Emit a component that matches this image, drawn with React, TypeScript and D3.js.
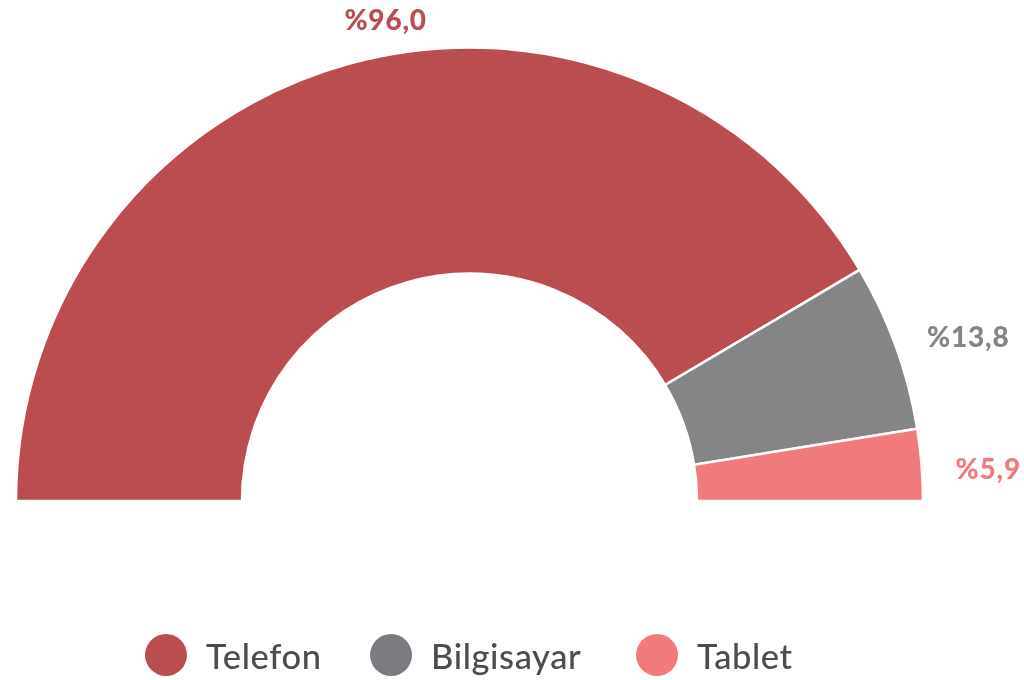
import React from "react";
import * as d3 from "d3";

const categories = ["Telefon", "Bilgisayar", "Tablet"];
const values = [96.0, 13.8, 5.9];
const labels = ["%96,0", "%13,8", "%5,9"];
const sliceColors = ["#B94D50", "#858587", "#F07A7C"];
const legendColors = ["#B94D50", "#797B80", "#F07A7C"];

const W = 1024;
const H = 680;
const cx = 469.5;
const cy = 501;
const outerR = 453.5;
const innerR = 227.5;
const labelR = 488;
const FONT = "Lato, 'Noto Sans', sans-serif";

export default function App() {
  const pie = d3
    .pie<number>()
    .sort(null)
    .startAngle(-Math.PI / 2)
    .endAngle(Math.PI / 2)(values);
  const arc = d3.arc<d3.PieArcDatum<number>>().innerRadius(innerR).outerRadius(outerR);

  const legendXs = [166, 391, 657];

  return (
    <div style={{ position: "fixed", left: 0, top: 0 }}>
      <svg width={W} height={H} style={{ display: "block" }}>
        <g transform={`translate(${cx},${cy})`}>
          {pie.map((d, i) => (
            <path key={i} d={arc(d) || ""} fill={sliceColors[i]} stroke="#fff" strokeWidth={2.5} />
          ))}
          {pie.map((d, i) => {
            const mid = (d.startAngle + d.endAngle) / 2;
            const x = labelR * Math.sin(mid);
            const y = -labelR * Math.cos(mid);
            const s = Math.cos(mid);
            const yc = y + 8 - 20 * s;
            return (
              <text
                key={i}
                x={x + 4 * s * (i === 0 ? 1 : -1)}
                y={yc}
                dominantBaseline="central"
                textAnchor="start"
                fill={sliceColors[i]}
                fontFamily={FONT}
                fontWeight={900}
                fontSize={28}
                letterSpacing={0.8}
              >
                {labels[i]}
              </text>
            );
          })}
        </g>
        <g>
          {categories.map((c, i) => (
            <g key={c} transform={`translate(${legendXs[i]},655)`}>
              <circle r={21} fill={legendColors[i]} />
              <text
                x={40}
                y={0}
                dominantBaseline="central"
                fill="#4D4D4F"
                fontFamily={FONT}
                fontWeight={500}
                fontSize={34.5}
                letterSpacing={0.6}
              >
                {c}
              </text>
            </g>
          ))}
        </g>
      </svg>
    </div>
  );
}
